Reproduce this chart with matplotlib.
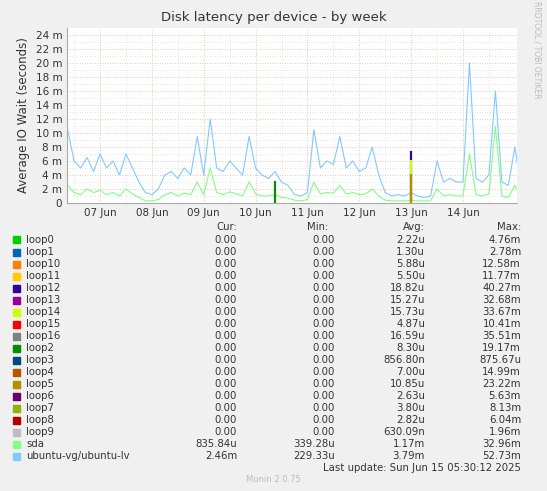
import matplotlib
matplotlib.use("Agg")
import matplotlib.pyplot as plt
import numpy as np
import datetime as dt
import matplotlib.dates as mdates

start = dt.datetime(2025, 6, 6, 9, 0)
n = 71
times = [start + dt.timedelta(hours=3 * i) for i in range(n)]

ubuntu_lv = [10.5,6,5,6.5,4.5,7,5,6,4,7,5,3,1.5,1.2,2,4,4.5,3.5,5,4,9.5,4,12,5,4.5,6,5,4,9.5,5,
             4,3.5,4.5,3,2.5,1.2,1,1.5,10.5,5,6,5.5,9.5,5,6,4.5,5,8,4,1.5,1,1.2,1,1.5,1,0.8,1,6,3,3.5,
             3,3,20,3.5,3,4,16,3,2.5,8,2]
sda = [2.5,1.5,1.2,2,1.5,1.8,1.2,1.5,1,2,1.3,0.8,0.3,0.3,0.5,1.2,1.5,1,1.4,1.2,3,1.2,5,1.5,1.2,1.6,1.3,1,3,1.3,
       1,1,1.2,0.8,0.7,0.4,0.3,0.5,3,1.3,1.5,1.4,2.5,1.3,1.5,1.2,1.3,2,1,0.4,0.3,0.3,0.3,0.4,0.3,0.3,0.3,2,1,1.2,
       1,1,7,1.2,1,1.3,11,1,0.8,2.5,0.8]
loop2 = [0]*32 + [3.2] + [0]*38
loop12 = [0]*53 + [7.5] + [0]*17
loop14 = [0]*53 + [6.2] + [0]*17
loop5 = [0]*53 + [4.2] + [0]*17

names = ["loop0","loop1","loop10","loop11","loop12","loop13","loop14","loop15","loop16","loop2",
         "loop3","loop4","loop5","loop6","loop7","loop8","loop9","sda","ubuntu-vg/ubuntu-lv"]
colors = ["#00CC00","#0066B3","#FF8000","#FFCC00","#330099","#990099","#CCFF00","#FF0000","#808080",
          "#008F00","#00487D","#B35A00","#B38F00","#6B006B","#8FB300","#B30000","#BEBEBE","#80FF80","#80C9FF"]
cur = ["0.00"]*17 + ["835.84u","2.46m"]
mins = ["0.00"]*17 + ["339.28u","229.33u"]
avg = ["2.22u","1.30u","5.88u","5.50u","18.82u","15.27u","15.73u","4.87u","16.59u","8.30u","856.80n",
       "7.00u","10.85u","2.63u","3.80u","2.82u","630.09n","1.17m","3.79m"]
mx = ["4.76m","2.78m","12.58m","11.77m","40.27m","32.68m","33.67m","10.41m","35.51m","19.17m","875.67u",
      "14.99m","23.22m","5.63m","8.13m","6.04m","1.96m","32.96m","52.73m"]
yticks = list(range(0, 25, 2))

W, H = 547, 491
fig = plt.figure(figsize=(W/100, H/100), dpi=100, facecolor="#F0F0F0")
ax = fig.add_axes([67/W, 1-203/H, 450/W, 175/H])
ax.set_facecolor("white")
ax.plot(times, ubuntu_lv, color=colors[18], lw=0.8)
ax.plot(times, sda, color=colors[17], lw=0.8)

def spikes(v):
    return np.where(np.array(v) > 0, np.array(v, float), np.nan)
for v, c in [(loop2, colors[9]), (loop12, colors[4]), (loop14, colors[6]), (loop5, colors[12])]:
    arr = np.array(v, float)
    idx = np.nonzero(arr)[0]
    ax.vlines([times[i] for i in idx], 0, arr[idx], color=c, lw=1.6)

ax.set_xlim(dt.datetime(2025,6,6,8,43), dt.datetime(2025,6,15,1,0))
ax.set_ylim(0, 25)
ax.set_yticks(yticks)
ax.set_yticklabels(["0"] + [f"{v} m" for v in yticks[1:]], fontsize=7.5, color="#333333")
day_ticks = [dt.datetime(2025,6,d) for d in range(7, 15)]
ax.set_xticks(day_ticks)
ax.set_xticklabels([d.strftime("%d %b") for d in day_ticks])
ax.set_xticks([d + dt.timedelta(hours=12) for d in [dt.datetime(2025,6,6)] + day_ticks], minor=True)
ax.tick_params(axis="x", labelsize=7.5, colors="#333333", length=0)
ax.tick_params(axis="y", length=0)
ax.tick_params(which="minor", length=0)
ax.grid(True, which="major", color="#E0B0B0", ls=(0,(1,2)), lw=0.6)
ax.grid(True, which="minor", axis="x", color="#DDDDDD", ls=(0,(1,2)), lw=0.6)
ax.set_yticks(np.arange(1, 25, 2), minor=True)
ax.grid(True, which="minor", axis="y", color="#DDDDDD", ls=(0,(1,2)), lw=0.6)
for s in ["top","right"]:
    ax.spines[s].set_visible(False)
for s in ["left","bottom"]:
    ax.spines[s].set_color("#AAAAAA")
ax.set_ylabel("Average IO Wait (seconds)", fontsize=8.5, color="#333333")
fig.text(0.5, 1-18/H, "Disk latency per device - by week", ha="center", va="center", fontsize=9.5, color="#333333")
fig.text(537/W, 1-50/H, "RRDTOOL / TOBI OETIKER", rotation=270, fontsize=5.5, color="#BBBBBB", ha="center", va="center")

fs = 7.3
y0 = 227
fig.text(237/W, 1-y0/H, "Cur:", ha="right", va="center", fontsize=fs, color="#333333")
fig.text(328/W, 1-y0/H, "Min:", ha="right", va="center", fontsize=fs, color="#333333")
fig.text(425/W, 1-y0/H, "Avg:", ha="right", va="center", fontsize=fs, color="#333333")
fig.text(521/W, 1-y0/H, "Max:", ha="right", va="center", fontsize=fs, color="#333333")
for i, nm in enumerate(names):
    y = 1 - (240 + i*12.0)/H
    fig.patches.append(plt.Rectangle((13/W, y-3.5/H), 7/W, 7/H, transform=fig.transFigure, color=colors[i]))
    fig.text(26/W, y, nm, va="center", fontsize=fs, color="#333333")
    fig.text(237/W, y, cur[i], ha="right", va="center", fontsize=fs, color="#333333")
    fig.text(335/W, y, mins[i], ha="right", va="center", fontsize=fs, color="#333333")
    fig.text(425/W, y, avg[i], ha="right", va="center", fontsize=fs, color="#333333")
    fig.text(521/W, y, mx[i], ha="right", va="center", fontsize=fs, color="#333333")
fig.text(521/W, 1-468/H, "Last update: Sun Jun 15 05:30:12 2025", ha="right", va="center", fontsize=fs, color="#333333")
fig.text(273/W, 1-480/H, "Munin 2.0.75", ha="center", va="center", fontsize=6, color="#BBBBBB")
fig.savefig("out.png", dpi=100, facecolor=fig.get_facecolor())
